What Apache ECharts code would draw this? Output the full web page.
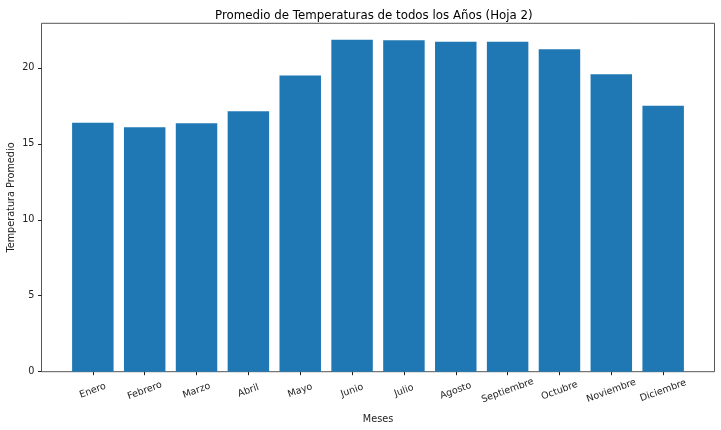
<!DOCTYPE html>
<html>
<head>
<meta charset="utf-8">
<script src="https://cdn.jsdelivr.net/npm/echarts@6/dist/echarts.min.js"></script>
<style>
html,body{margin:0;padding:0;background:#fff;}
#chart{width:721px;height:430px;}
</style>
</head>
<body>
<div id="chart"></div>
<script>
const months = ['Enero','Febrero','Marzo','Abril','Mayo','Junio','Julio','Agosto','Septiembre','Octubre','Noviembre','Diciembre'];
const temps = [16.38, 16.09, 16.36, 17.14, 19.49, 21.84, 21.82, 21.71, 21.71, 21.22, 19.58, 17.50];
const yTicks = [0, 5, 10, 15, 20];
const yMax = 22.93;

const FONT = 'DejaVu Sans';
const TXT = '#222';
const frameL = 41.5, frameR = 6.5, frameT = 23.3, frameB = 58.3;
const bandW = 51.87;
// category band area inside the frame (matplotlib pads the bar extent by 5%)
const catL = frameL + 0.49 * bandW;
const catR = frameR + 0.49 * bandW;

const chart = echarts.init(document.getElementById('chart'), null, {renderer: 'canvas'});
chart.setOption({
  animation: false,
  backgroundColor: '#fff',
  title: {
    text: 'Promedio de Temperaturas de todos los Años (Hoja 2)',
    left: 210, top: 5,
    textStyle: {fontFamily: FONT, fontSize: 11.8, fontWeight: 'normal', color: '#000'}
  },
  grid: [
    {left: catL, right: catR, top: frameT, bottom: frameB, show: false, outerBoundsMode: 'none'},
    {left: frameL, right: frameR, top: frameT, bottom: frameB, show: true, borderColor: '#555', borderWidth: 1, backgroundColor: 'transparent', outerBoundsMode: 'none'}
  ],
  xAxis: [
    {
      gridIndex: 0, type: 'category', data: months, boundaryGap: true,
      name: 'Meses', nameLocation: 'middle', nameGap: 43, nameMoveOverlap: false,
      nameTextStyle: {fontFamily: FONT, fontSize: 9.7, color: TXT},
      axisLine: {show: false},
      splitLine: {show: false},
      axisTick: {show: true, alignWithLabel: true, length: 3.5, lineStyle: {color: TXT, width: 1}},
      axisLabel: {
        interval: 0, rotate: 20, align: 'center', verticalAlign: 'middle', margin: 19,
        fontFamily: FONT, fontSize: 9.5, color: TXT
      }
    },
    {gridIndex: 1, type: 'value', min: 0, max: 1, show: false}
  ],
  yAxis: [
    {gridIndex: 0, type: 'value', min: 0, max: yMax, show: false},
    {
      gridIndex: 1, type: 'value', min: 0, max: yMax,
      name: 'Temperatura Promedio', nameLocation: 'middle', nameRotate: 90, nameGap: 25, nameMoveOverlap: false,
      nameTextStyle: {fontFamily: FONT, fontSize: 9.7, color: TXT},
      axisLine: {show: false, onZero: false},
      splitLine: {show: false},
      axisTick: {show: true, length: 3.5, customValues: yTicks, lineStyle: {color: TXT, width: 1}},
      axisLabel: {customValues: yTicks, margin: 7, fontFamily: FONT, fontSize: 9.7, color: TXT}
    }
  ],
  series: [{
    type: 'bar',
    xAxisIndex: 0, yAxisIndex: 0,
    data: temps,
    barWidth: '80%',
    itemStyle: {color: '#1f77b4'}
  }]
});
</script>
</body>
</html>
